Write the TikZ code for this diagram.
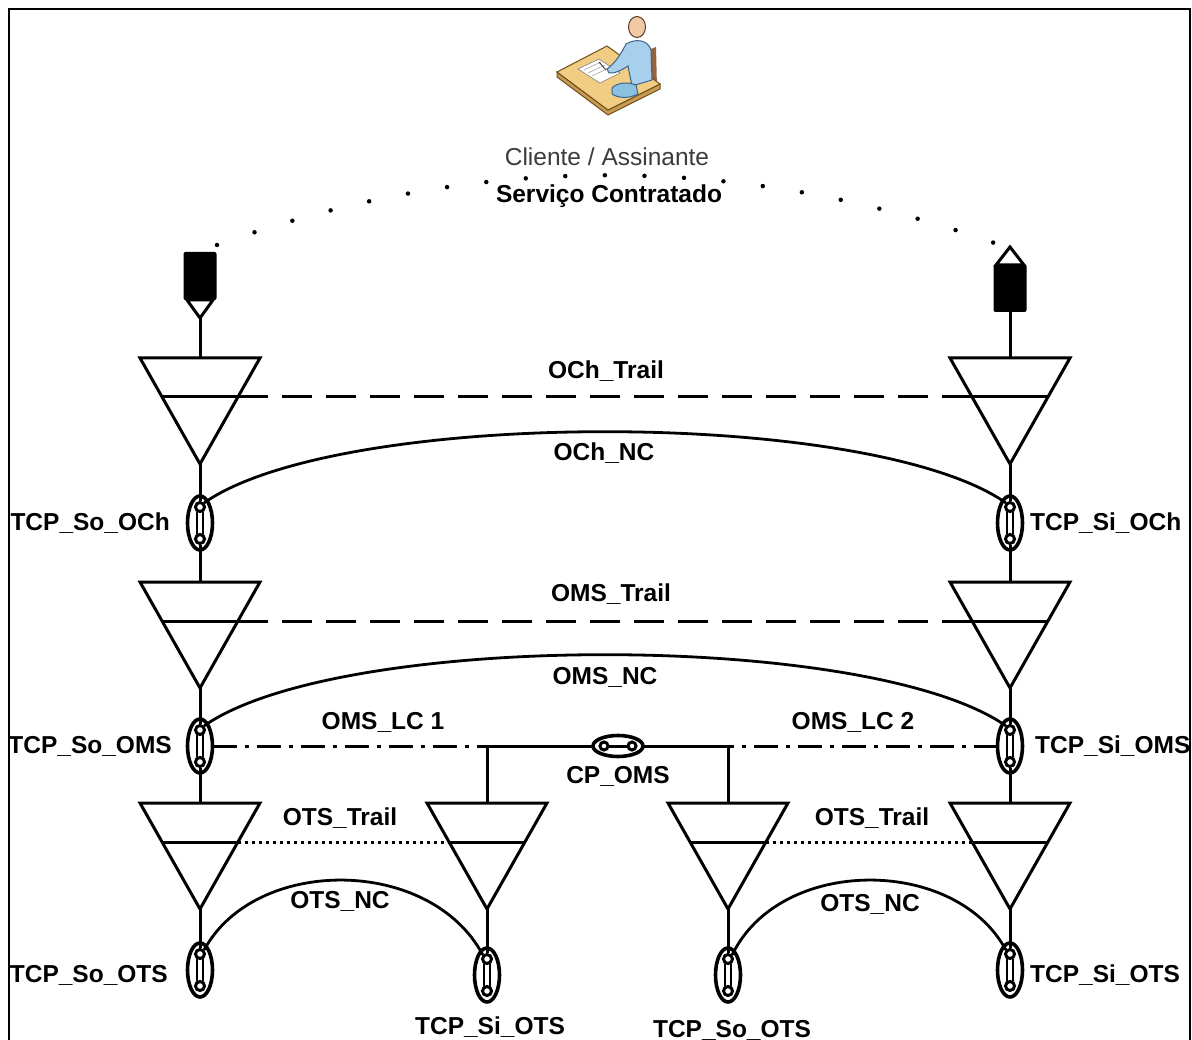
\documentclass[tikz,border=0pt]{standalone}
\usepackage{fontspec}
\setmainfont{Liberation Sans}
\usetikzlibrary{shapes.geometric,calc}

\definecolor{deskedge}{RGB}{110,80,30}
\definecolor{deskside}{RGB}{200,155,80}
\definecolor{desktop}{RGB}{240,205,130}
\definecolor{shirt}{RGB}{168,208,236}
\definecolor{shirtedge}{RGB}{60,100,140}
\definecolor{cloth}{RGB}{140,192,224}
\definecolor{skin}{RGB}{242,201,165}
\definecolor{skinedge}{RGB}{90,60,40}
\definecolor{chair}{RGB}{150,100,60}
\definecolor{captiongray}{RGB}{60,60,60}

\tikzset{
  sym/.style={line width=3pt, line join=miter},
  trail/.style={line width=3pt, dash pattern=on 30pt off 14pt},
  otstrail/.style={line width=3pt, dash pattern=on 3pt off 4pt},
  lc/.style={line width=3pt, dash pattern=on 24pt off 8pt on 4pt off 8pt},
  nc/.style={line width=2.8pt},
  lbl/.style={font=\fontsize{24.5}{29}\selectfont\bfseries, inner sep=0pt},
  dotc/.style={circle, draw, fill=white, line width=3pt, minimum size=9pt, inner sep=0pt},
  % trail termination (inverted triangle), origin at the top centre
  ttf/.pic={
    \draw[sym] (-60,0) -- (60,0) -- (0,106) -- cycle;
    \draw[sym] (-37.9,39) -- (37.9,39);
    \coordinate (-top) at (0,0);
    \coordinate (-apex) at (0,106);
    \coordinate (-ml) at (-37.9,39);
    \coordinate (-mr) at (37.9,39);
  },
  % termination connection point, vertical
  tcpv/.pic={
    \draw[line width=3.6pt] (0,0) ellipse [x radius=12.5, y radius=27];
    \draw[line width=2.2pt] (-3,-11) -- (-3,11) (3,-11) -- (3,11);
    \node[dotc] (-t) at (0,-16) {};
    \node[dotc] (-b) at (0,16) {};
    \coordinate (-e) at (12.5,0);
    \coordinate (-w) at (-12.5,0);
  },
  % connection point, horizontal
  cph/.pic={
    \draw[line width=3.6pt] (0,0) ellipse [x radius=25, y radius=10.5];
    \draw[line width=3pt] (-14,0) -- (14,0);
    \node[dotc, minimum size=8pt] (-l) at (-14,0) {};
    \node[dotc, minimum size=8pt] (-r) at (14,0) {};
    \coordinate (-e) at (25,0);
    \coordinate (-w) at (-25,0);
  },
  % adaptation source end point
  srcend/.pic={
    \fill[rounded corners=2pt] (-16.5,0) rectangle (16.5,48);
    \draw[line width=3pt, line join=miter] (-13,48) -- (13,48) -- (0,66) -- cycle;
    \coordinate (-foot) at (0,66);
  },
  % adaptation sink end point
  sinkend/.pic={
    \fill[rounded corners=2pt] (-16.5,18) rectangle (16.5,65);
    \draw[line width=3pt, line join=miter] (-14,18) -- (14,18) -- (0,0) -- cycle;
    \coordinate (-foot) at (0,65);
    \coordinate (-tip) at (0,0);
  }
}

\begin{document}
\begin{tikzpicture}[x=1pt, y=-1pt]
\clip (0,0) rectangle (1192,1040);
\fill[white] (0,0) rectangle (1192,1040);

% outer frame
\draw[line width=1.5pt] (9,1100) -- (9,9) -- (1190,9) -- (1190,1100);

% ---- subscriber icon: person writing at a desk ----
\begin{scope}
  \fill[chair] (648,50) -- (656,47) -- (657,88) -- (649,91) -- cycle;
  \filldraw[fill=deskside, draw=deskedge, line width=1pt]
    (557,72) -- (557,77) -- (608,115) -- (660,89) -- (660,84) -- (608,110) -- cycle;
  \filldraw[fill=desktop, draw=deskedge, line width=1pt]
    (557,72) -- (607,46) -- (660,84) -- (608,110) -- cycle;
  \filldraw[fill=white, draw=gray, line width=0.6pt] (578,69) -- (599,59) -- (620,73) -- (600,83) -- cycle;
  \draw[gray!70, line width=0.6pt] (584,70) -- (601,62) (588,73) -- (605,65) (592,76) -- (609,68);
  \filldraw[fill=shirt, draw=shirtedge, line width=1pt]
    (626,44) .. controls (636,38) and (648,40) .. (651,50) -- (652,80) -- (632,86) -- (628,66)
    .. controls (622,70) and (614,74) .. (609,73) -- (607,69)
    .. controls (614,64) and (620,56) .. (626,44) -- cycle;
  \filldraw[fill=cloth, draw=shirtedge, line width=1pt]
    (612,88) .. controls (618,82) and (628,82) .. (636,85) -- (638,94) .. controls (628,99) and (618,98) .. (612,94) -- cycle;
  \filldraw[fill=skin, draw=skinedge, line width=1pt]
    (637,27) ellipse [x radius=8.5, y radius=10.5];
  \draw[skinedge, line width=1pt] (606,70) -- (599,62);
\end{scope}

% ---- client / contracted service ----
\node[font=\fontsize{24.5}{29}\selectfont, text=captiongray, inner sep=0pt] (cli) at (607,157) {Cliente / Assinante};
\node[lbl] (svc) at (609,196) {Serviço Contratado};

% ---- end points ----
\pic (aso) at (200,252) {srcend};
\pic (ask) at (1010,247) {sinkend};

% ---- trail terminations ----
\pic (och1) at (200,358) {ttf};
\pic (och2) at (1010,358) {ttf};
\pic (oms1) at (200,582) {ttf};
\pic (oms2) at (1010,582) {ttf};
\pic (otsA) at (200,803) {ttf};
\pic (otsB) at (487,803) {ttf};
\pic (otsC) at (728,803) {ttf};
\pic (otsD) at (1010,803) {ttf};

% ---- vertical stems ----
\coordinate (soOChN) at (200,496);
\coordinate (siOChN) at (1010,496);
\draw[sym] (aso-foot) -- (och1-top);
\draw[sym] (ask-foot) -- (och2-top);

% ---- connection points ----
\pic (soOCh) at (200,523) {tcpv};
\pic (siOCh) at (1010,523) {tcpv};
\pic (soOMS) at (200,746) {tcpv};
\pic (siOMS) at (1010,746) {tcpv};
\pic (soOTS) at (200,970) {tcpv};
\pic (siOTSm) at (487,975) {tcpv};
\pic (soOTSm) at (728,975) {tcpv};
\pic (siOTS) at (1010,970) {tcpv};
\pic (cp) at (618,746) {cph};

\draw[sym] (och1-apex) -- (soOCh-t.north);
\draw[sym] (och2-apex) -- (siOCh-t.north);
\draw[sym] (soOCh-b.south) -- (oms1-top);
\draw[sym] (siOCh-b.south) -- (oms2-top);
\draw[sym] (oms1-apex) -- (soOMS-t.north);
\draw[sym] (oms2-apex) -- (siOMS-t.north);
\draw[sym] (soOMS-b.south) -- (otsA-top);
\draw[sym] (siOMS-b.south) -- (otsD-top);
\draw[sym] (otsA-apex) -- (soOTS-t.north);
\draw[sym] (otsB-apex) -- (siOTSm-t.north);
\draw[sym] (otsC-apex) -- (soOTSm-t.north);
\draw[sym] (otsD-apex) -- (siOTS-t.north);

% ---- service arc ----
\coordinate (svL) at (217,245);
\coordinate (svR) at (1000,245);
\draw[line width=4.5pt, line cap=round, dash pattern=on 0pt off 39.6pt]
  (svL) .. controls (478,152) and (739,152) .. (svR);

% ---- trails ----
\draw[trail] (och1-mr) -- (och2-ml);
\draw[trail] (oms1-mr) -- (oms2-ml);
\draw[otstrail] (otsA-mr) -- (otsB-ml);
\draw[otstrail] (otsC-mr) -- (otsD-ml);

% ---- network connections ----
\draw[nc] (soOCh-t.north east) .. controls (340,408) and (870,408) .. (siOCh-t.north west);
\draw[nc] (soOMS-t.north east) .. controls (340,631) and (870,631) .. (siOMS-t.north west);
\draw[nc] (soOTS-t.north east) .. controls (255,856) and (430,856) .. (siOTSm-t.north west);
\draw[nc] (soOTSm-t.north east) .. controls (780,856) and (955,856) .. (siOTS-t.north west);

% ---- link connections through CP_OMS ----
\coordinate (jL) at (487,746);
\coordinate (jR) at (728,746);
\draw[lc] (soOMS-e) -- (jL);
\draw[lc] (siOMS-w) -- (jR);
\draw[sym] (otsB-top) -- (jL) -- (cp-w);
\draw[sym] (otsC-top) -- (jR) -- (cp-e);

% ---- labels ----
\node[lbl] (lOChT) at (606,371) {OCh\_Trail};
\node[lbl] (lOChN) at (604,453) {OCh\_NC};
\node[lbl, anchor=east] (lSoOCh) at (170,523) {TCP\_So\_OCh};
\node[lbl, anchor=west] (lSiOCh) at (1030,523) {TCP\_Si\_OCh};
\node[lbl] (lOMST) at (611,594) {OMS\_Trail};
\node[lbl] (lOMSN) at (605,677) {OMS\_NC};
\node[lbl, anchor=east] (lSoOMS) at (172,746) {TCP\_So\_OMS};
\node[lbl, anchor=west] (lSiOMS) at (1035,746) {TCP\_Si\_OMS};
\node[lbl] (lLC1) at (383,722) {OMS\_LC 1};
\node[lbl] (lLC2) at (853,722) {OMS\_LC 2};
\node[lbl] (lCP) at (618,776) {CP\_OMS};
\node[lbl] (lOTST1) at (340,818) {OTS\_Trail};
\node[lbl] (lOTST2) at (872,818) {OTS\_Trail};
\node[lbl] (lOTSN1) at (340,901) {OTS\_NC};
\node[lbl] (lOTSN2) at (870,904) {OTS\_NC};
\node[lbl, anchor=east] (lSoOTS) at (168,975) {TCP\_So\_OTS};
\node[lbl, anchor=west] (lSiOTS) at (1030,975) {TCP\_Si\_OTS};
\node[lbl] (lSiOTSm) at (490,1027) {TCP\_Si\_OTS};
\node[lbl] (lSoOTSm) at (732,1030) {TCP\_So\_OTS};
\end{tikzpicture}
\end{document}
